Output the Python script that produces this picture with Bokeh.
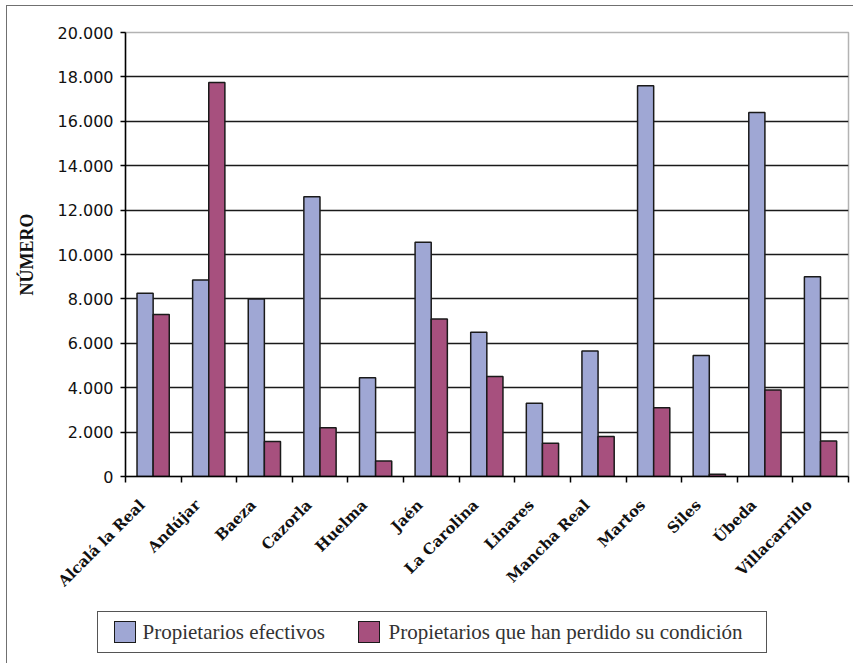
import math
import numpy as np
from bokeh.plotting import figure
from bokeh.layouts import column
from bokeh.models import ColumnDataSource, Range1d, FixedTicker, Div
from bokeh.transform import dodge
from bokeh.embed import file_html
from bokeh.resources import INLINE

# Municipalities and property-owner counts
categories = ["Alcalá la Real", "Andújar", "Baeza", "Cazorla", "Huelma", "Jaén",
              "La Carolina", "Linares", "Mancha Real", "Martos", "Siles", "Úbeda",
              "Villacarrillo"]
efectivos = [8250, 8850, 8000, 12600, 4450, 10550, 6500, 3300, 5650, 17600, 5450, 16400, 9000]
perdidos = [7300, 17750, 1580, 2200, 700, 7100, 4500, 1500, 1800, 3100, 100, 3900, 1600]

y_ticks = [0, 2000, 4000, 6000, 8000, 10000, 12000, 14000, 16000, 18000, 20000]
y_tick_labels = ["0", "2.000", "4.000", "6.000", "8.000", "10.000", "12.000",
                 "14.000", "16.000", "18.000", "20.000"]

series_names = ["Propietarios efectivos", "Propietarios que han perdido su condición"]
colors = ["#9fa7d4", "#a7507e"]
bar_line = "#1a1a1a"

n = len(categories)
source = ColumnDataSource(dict(idx=list(range(n)), cat=categories,
                               ef=efectivos, lost=perdidos))

p = figure(width=846, height=600, output_backend="svg", toolbar_location=None,
           x_range=Range1d(0, n), y_range=Range1d(y_ticks[0], y_ticks[-1]),
           min_border_left=118, min_border_right=5, min_border_top=26,
           min_border_bottom=130, background_fill_color="white",
           border_fill_color="white")

p.outline_line_color = "#b3b3b3"
p.outline_line_width = 1.5

p.vbar(x=dodge("idx", 0.352, range=p.x_range), top="ef", width=0.29, source=source,
       fill_color=colors[0], line_color=bar_line, line_width=1.5)
p.vbar(x=dodge("idx", 0.642, range=p.x_range), top="lost", width=0.29, source=source,
       fill_color=colors[1], line_color=bar_line, line_width=1.5)

# y axis
p.yaxis.ticker = FixedTicker(ticks=y_ticks, minor_ticks=[])
p.yaxis.major_label_overrides = {t: s for t, s in zip(y_ticks, y_tick_labels)}
p.yaxis.major_tick_out = 5
p.yaxis.major_tick_in = 0
p.yaxis.major_tick_line_color = "black"
p.yaxis.major_tick_line_width = 1.5
p.yaxis.axis_line_color = "black"
p.yaxis.axis_line_width = 1.5
p.yaxis.major_label_text_font = "DejaVu Sans"
p.yaxis.major_label_text_font_size = "16px"
p.yaxis.major_label_text_color = "#111111"
p.yaxis.major_label_standoff = 7
p.yaxis.axis_label = "NÚMERO"
p.yaxis.axis_label_text_font = "Liberation Serif"
p.yaxis.axis_label_text_font_style = "bold"
p.yaxis.axis_label_text_font_size = "18px"
p.yaxis.axis_label_text_color = "#111111"
p.yaxis.axis_label_standoff = 18

# x axis: labels near category centres, tick marks on category boundaries
label_pos = [i + 0.3 for i in range(n)]
p.xaxis.ticker = FixedTicker(ticks=label_pos, minor_ticks=list(range(n + 1)))
p.xaxis.major_label_overrides = {t: c for t, c in zip(label_pos, categories)}
p.xaxis.major_label_orientation = math.pi / 4
p.xaxis.major_tick_out = 0
p.xaxis.major_tick_in = 0
p.xaxis.minor_tick_out = 6
p.xaxis.minor_tick_in = 0
p.xaxis.minor_tick_line_color = "black"
p.xaxis.minor_tick_line_width = 1.5
p.xaxis.axis_line_color = "black"
p.xaxis.axis_line_width = 1.5
p.xaxis.major_label_text_font = "DejaVu Serif"
p.xaxis.major_label_text_font_style = "bold"
p.xaxis.major_label_text_font_size = "15px"
p.xaxis.major_label_text_color = "#111111"
p.xaxis.major_label_standoff = 20

p.xgrid.visible = False
p.ygrid.ticker = FixedTicker(ticks=y_ticks[1:-1])
p.ygrid.grid_line_color = bar_line
p.ygrid.grid_line_width = 1.5

# legend strip underneath the chart
swatch = ("position:absolute; top:9px; width:22px; height:22px; box-sizing:border-box;"
          "border:1.5px solid %s; background:%%s; left:%%dpx;" % bar_line)
label = ("position:absolute; top:0; line-height:40px; white-space:nowrap;"
         "left:%dpx;")
legend_html = (
    '<div style="position:relative; width:846px; height:57px;">'
    '<div style="position:absolute; left:89.5px; top:4.5px; width:670px; height:42px;'
    ' box-sizing:border-box; border:1px solid #555555; background:white;'
    ' font-family:\'Liberation Serif\'; font-size:21px; color:#333333;">'
    f'<span style="{swatch % (colors[0], 16)}"></span>'
    f'<span style="{label % 45}">{series_names[0]}</span>'
    f'<span style="{swatch % (colors[1], 260)}"></span>'
    f'<span style="{label % 291}">{series_names[1]}</span>'
    '</div></div>'
)
legend_div = Div(text=legend_html, width=846, height=57, margin=0)

# thin grey page frame on the top and left edges
page = column(p, legend_div, spacing=0,
              styles={"margin-left": "6px", "margin-top": "5px",
                      "border-left": "1.5px solid #707070",
                      "border-top": "1.5px solid #707070"})

open("out.html", "w").write(file_html(page, INLINE))
